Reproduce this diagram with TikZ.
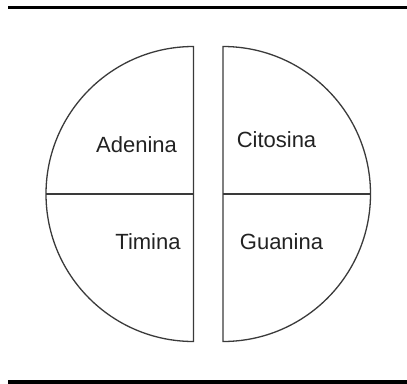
\documentclass[tikz,border=0pt]{standalone}
\usepackage{fontspec}
\setsansfont{Liberation Sans}
\definecolor{cline}{HTML}{3A3A3A}
\definecolor{ctext}{HTML}{222222}
\tikzset{
  every picture/.style={font=\sffamily, line width=1.3pt},
  half/.style={draw=cline, line width=1.3pt},
  rule/.style={draw=black, line width=3.6pt},
  base/.style={font=\sffamily\fontsize{22}{26}\selectfont, text=ctext, inner sep=0pt},
}

\begin{document}
\begin{tikzpicture}[x=1pt, y=-1pt]
  \useasboundingbox (0,0) rectangle (407,383);
  % the two thick rules above and below
  \draw[rule] (8,7.5) -- (407,7.5);
  \draw[rule] (8,381.7) -- (407,381.7);
  % left half: A over T
  \draw[half] (193.5,46.5) -- (193.5,341.5) arc[start angle=90, end angle=270, radius=147.5] -- cycle;
  \draw[half] (46,194) -- (193.5,194);
  % right half: C over G
  \draw[half] (223,46.5) -- (223,341.5) arc[start angle=90, end angle=-90, radius=147.5] -- cycle;
  \draw[half] (223,194) -- (370.5,194);
  % bases
  \node[base] (ade) at (136.5,145) {Adenina};
  \node[base] (tim) at (148,241.5) {Timina};
  \node[base] (cit) at (276.5,140) {Citosina};
  \node[base] (gua) at (281.5,242) {Guanina};
\end{tikzpicture}
\end{document}
